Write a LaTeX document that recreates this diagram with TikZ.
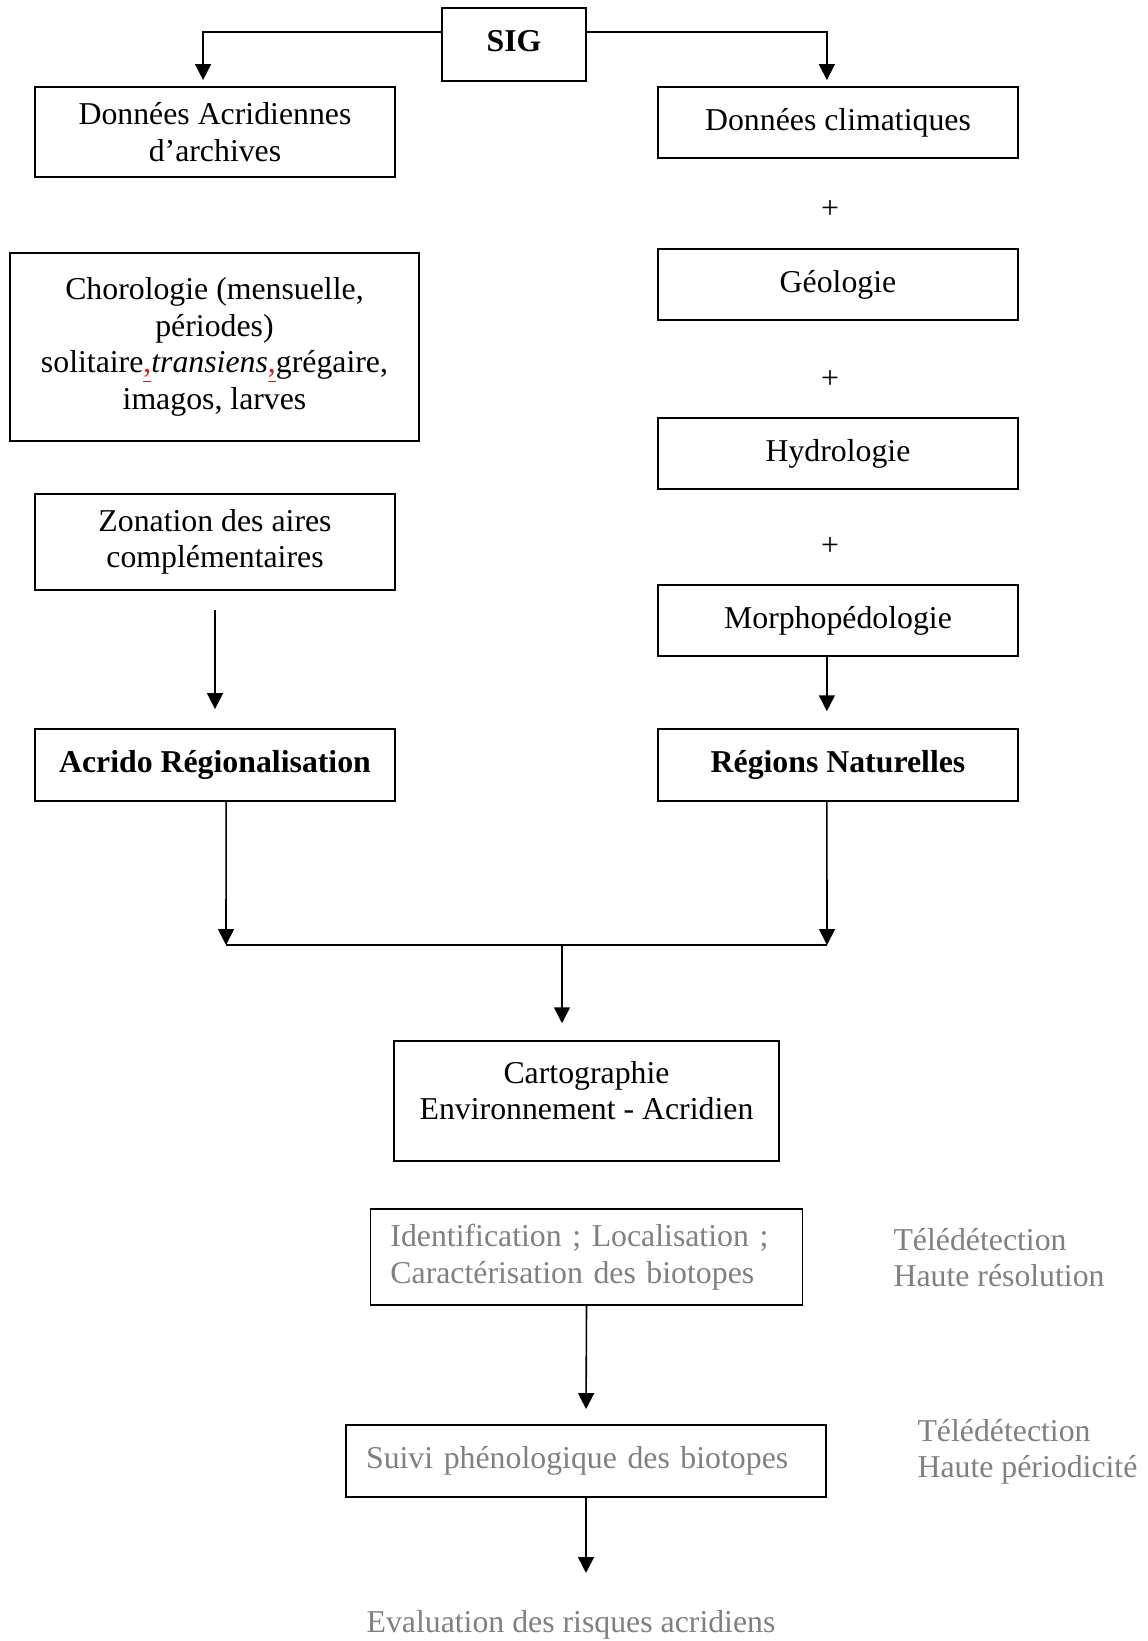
\documentclass[tikz,border=0pt]{standalone}
\usepackage{fontspec}
\setmainfont{Liberation Serif}
\usepackage{tikz}
\usetikzlibrary{arrows.meta}
\definecolor{faded gray}{rgb}{0.5, 0.5, 0.5}
\definecolor{spell red}{rgb}{0.9, 0.1, 0.1}

\begin{document}
\begin{tikzpicture}[x=0.3774pt, y=-0.3774pt,
		every node/.style={font=\fontsize{12}{13.8}\selectfont, inner sep=0pt},
		box/.style={draw, line width=0.6pt, align=center},
		arr/.style={line width=0.6pt, -{Triangle[length=6pt, width=6pt]}}]
			\useasboundingbox (0, 0) rectangle (1147, 1641);
			% top
			\node[box, minimum width=54.3pt, minimum height=27.6pt, text depth=3pt] (sig) at (514, 44.5) {\textbf{SIG}};
			% left column
			\node[box, minimum width=135.9pt, minimum height=34pt] (donacr) at (215, 132) {Données Acridiennes\\ d’archives};
			\node[box, minimum width=154.4pt, minimum height=71pt] (choro) at (214.5, 347)
				{Chorologie (mensuelle,\\ périodes)\\ solitaire{\color{spell red}\underline{,}}\textit{transiens}{\color{spell red}\underline{,}}grégaire,\\ imagos, larves};
			\node[box, minimum width=135.9pt, minimum height=36.2pt] (zonation) at (215, 542) {Zonation des aires\\ complémentaires};
			\node[box, minimum width=135.9pt, minimum height=27.2pt] (acrido) at (215, 765) {\textbf{Acrido Régionalisation}};
			% right column
			\node[box, minimum width=135.9pt, minimum height=26.8pt] (donclim) at (838, 122.5) {Données climatiques};
			\node (plus1) at (830, 210) {+};
			\node[box, minimum width=135.9pt, minimum height=26.8pt] (geol) at (838, 284.5) {Géologie};
			\node (plus2) at (830, 380) {+};
			\node[box, minimum width=135.9pt, minimum height=26.8pt] (hydro) at (838, 453.5) {Hydrologie};
			\node (plus3) at (830, 547) {+};
			\node[box, minimum width=135.9pt, minimum height=26.8pt] (morpho) at (838, 620.5) {Morphopédologie};
			\node[box, minimum width=135.9pt, minimum height=27.2pt] (regions) at (838, 765) {\textbf{Régions Naturelles}};
			% bottom
			\node[box, minimum width=145.3pt, minimum height=45.3pt, text depth=8pt] (carto) at (586.5, 1101) {Cartographie\\ Environnement - Acridien};
			\node[box, align=left, text=faded gray, text width=148pt, inner xsep=7.5pt, minimum height=36.2pt] (ident) at (586.5, 1257)
				{Identification ; Localisation ;\\ Caractérisation des biotopes};
			\node[box, align=left, text=faded gray, text width=166pt, inner xsep=7.5pt, minimum height=27.2pt] (suivi) at (586, 1461)
				{Suivi phénologique des biotopes};
			\node[text=faded gray] (eval) at (571, 1625) {Evaluation des risques acridiens};
			\node[text=faded gray, align=left, anchor=west] (tele1) at (893, 1257.5) {Télédétection\\ Haute résolution};
			\node[text=faded gray, align=left, anchor=west] (tele2) at (917, 1452) {Télédétection\\ Haute périodicité};
			% connectors
			\coordinate (jl) at (226, 945);
			\coordinate (jm) at (562, 945);
			\coordinate (jr) at (827, 945);
			\draw[arr] ([yshift=4.7pt]sig.west) -| ([xshift=-4.5pt, yshift=2.3pt]donacr.north);
			\draw[arr] ([yshift=4.7pt]sig.east) -| ([xshift=-4.2pt, yshift=2.3pt]donclim.north);
			\draw[arr, shorten <=7.2pt, shorten >=7.2pt] (zonation.south) -- (acrido.north);
			\draw[arr] ([xshift=-4.2pt]morpho.south) -- ([xshift=-4.2pt, yshift=6.4pt]regions.north);
			\draw[arr] ([xshift=4.2pt]acrido.south) -- (jl);
			\draw[arr] ([xshift=-4.2pt]regions.south) -- (jr);
			\draw[line width=0.6pt] (jl) -- (jr);
			\draw[arr, shorten >=6.4pt] (jm) -- (jm |- carto.north);
			\draw[arr, shorten >=5.7pt] (ident.south) -- (suivi.north);
			\draw[arr, shorten >=14pt] (suivi.south) -- (suivi.south |- eval.north);
		\end{tikzpicture}
\end{document}
